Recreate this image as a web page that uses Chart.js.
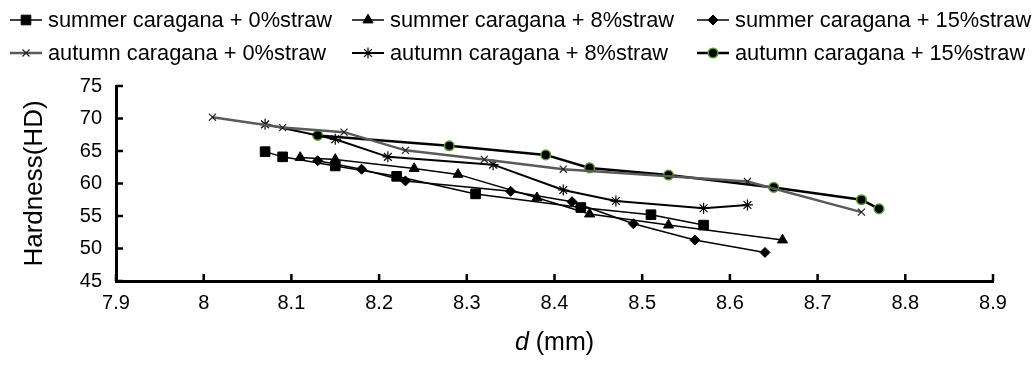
<!DOCTYPE html>
<html>
<head>
<meta charset="utf-8">
<script src="https://cdn.jsdelivr.net/npm/chart.js@4.4.1/dist/chart.umd.min.js"></script>
<style>
html, body { margin: 0; padding: 0; background: #fff; }
</style>
</head>
<body>
<canvas id="graficoDureza" width="1034" height="365"></canvas>
<script>
// ticks
var xTicks = [7.9, 8.0, 8.1, 8.2, 8.3, 8.4, 8.5, 8.6, 8.7, 8.8, 8.9];
var xTickLabels = ['7.9', '8', '8.1', '8.2', '8.3', '8.4', '8.5', '8.6', '8.7', '8.8', '8.9'];
var yTicks = [45, 50, 55, 60, 65, 70, 75];

// series
var nomes = [
    'summer caragana + 0%straw', 'summer caragana + 8%straw', 'summer caragana + 15%straw',
    'autumn caragana + 0%straw', 'autumn caragana + 8%straw', 'autumn caragana + 15%straw'
];
var xVerao0 = [8.07, 8.09, 8.15, 8.22, 8.31, 8.43, 8.51, 8.57];
var yVerao0 = [64.9, 64.1, 62.7, 61.1, 58.4, 56.3, 55.2, 53.6];
var xVerao8 = [8.11, 8.15, 8.24, 8.29, 8.38, 8.44, 8.53, 8.66];
var yVerao8 = [64.0, 63.7, 62.3, 61.4, 57.8, 55.3, 53.6, 51.3];
var xVerao15 = [8.13, 8.18, 8.23, 8.35, 8.42, 8.49, 8.56, 8.64];
var yVerao15 = [63.5, 62.2, 60.4, 58.8, 57.2, 53.8, 51.3, 49.4];
var xOutono0 = [8.01, 8.09, 8.16, 8.23, 8.32, 8.41, 8.62, 8.75];
var yOutono0 = [70.2, 68.6, 67.9, 65.1, 63.7, 62.2, 60.3, 55.6];
var xOutono8 = [8.07, 8.15, 8.21, 8.33, 8.41, 8.47, 8.57, 8.62];
var yOutono8 = [69.1, 66.8, 64.1, 62.9, 59.0, 57.3, 56.2, 56.7];
var xOutono15 = [8.13, 8.28, 8.39, 8.44, 8.53, 8.65, 8.75, 8.77];
var yOutono15 = [67.4, 65.8, 64.4, 62.4, 61.3, 59.4, 57.5, 56.1];

var FONTE = "'Liberation Sans', Arial, sans-serif";
var legendaX = [10, 352, 697];
var legendaY = [20, 53];

function pontos(xs, ys) {
    return xs.map(function (x, i) { return {x: x, y: ys[i]}; });
}

function serie(i, xs, ys, estilo) {
    var ds = {
        label: nomes[i],
        data: pontos(xs, ys),
        borderColor: '#000',
        borderWidth: 1.5,
        pointBackgroundColor: '#000',
        pointBorderColor: '#000',
        pointBorderWidth: 1,
        pointRadius: 5,
        pointHoverRadius: 5,
        tension: 0,
        fill: false,
        showLine: true
    };
    for (var k in estilo) ds[k] = estilo[k];
    return ds;
}

var decoracao = {
    id: 'decoracao',
    afterDraw: function (chart) {
        var ctx = chart.ctx, area = chart.chartArea;
        var sx = chart.scales.x, sy = chart.scales.y;
        ctx.save();
        // ticks pointing into the plot
        ctx.strokeStyle = '#000';
        ctx.lineWidth = 2.5;
        ctx.beginPath();
        yTicks.forEach(function (v) {
            var py = sy.getPixelForValue(v);
            ctx.moveTo(area.left, py);
            ctx.lineTo(area.left + 7, py);
        });
        xTicks.forEach(function (v) {
            var px = sx.getPixelForValue(v);
            ctx.moveTo(px, area.bottom);
            ctx.lineTo(px, area.bottom - 7);
        });
        ctx.stroke();

        // axis titles
        ctx.fillStyle = '#000';
        ctx.textBaseline = 'middle';
        ctx.save();
        ctx.translate(35, (area.top + area.bottom) / 2);
        ctx.rotate(-Math.PI / 2);
        ctx.textAlign = 'center';
        ctx.font = '26px ' + FONTE;
        ctx.fillText('Hardness(HD)', 0, 0);
        ctx.restore();

        ctx.textAlign = 'left';
        ctx.font = 'italic 25px ' + FONTE;
        var w1 = ctx.measureText('d').width;
        ctx.font = '25px ' + FONTE;
        var w2 = ctx.measureText(' (mm)').width;
        var x0 = (area.left + area.right) / 2 - (w1 + w2) / 2;
        ctx.font = 'italic 25px ' + FONTE;
        ctx.fillText('d', x0, 343);
        ctx.font = '25px ' + FONTE;
        ctx.fillText(' (mm)', x0 + w1, 343);

        // legend
        var desenha = Chart.helpers && Chart.helpers.drawPoint;
        chart.data.datasets.forEach(function (ds, i) {
            var lx = legendaX[i % 3], ly = legendaY[Math.floor(i / 3)];
            ctx.strokeStyle = ds.borderColor;
            ctx.lineWidth = ds.borderWidth;
            ctx.beginPath();
            ctx.moveTo(lx, ly);
            ctx.lineTo(lx + 32, ly);
            ctx.stroke();
            if (desenha) {
                ctx.fillStyle = ds.pointBackgroundColor;
                ctx.strokeStyle = ds.pointBorderColor;
                ctx.lineWidth = ds.pointBorderWidth;
                desenha(ctx, {pointStyle: ds.pointStyle, radius: ds.pointRadius, borderWidth: ds.pointBorderWidth, rotation: 0}, lx + 16, ly);
            }
            ctx.fillStyle = '#000';
            ctx.font = '21.8px ' + FONTE;
            ctx.textAlign = 'left';
            ctx.fillText(ds.label, lx + 38, ly + 1);
        });
        ctx.restore();
    }
};

var ctx = document.getElementById('graficoDureza').getContext('2d');
var grafico = new Chart(ctx, {
    type: 'line',
    data: {
        datasets: [
            serie(0, xVerao0, yVerao0, {pointStyle: 'rect', pointRadius: 6.8, pointHoverRadius: 6.8}),
            serie(1, xVerao8, yVerao8, {pointStyle: 'triangle', pointRadius: 5.8, pointHoverRadius: 5.8}),
            serie(2, xVerao15, yVerao15, {pointStyle: 'rectRot', pointRadius: 5, pointHoverRadius: 5}),
            serie(3, xOutono0, yOutono0, {pointStyle: 'crossRot', pointRadius: 5, borderColor: '#5a5a5a', borderWidth: 2.5, pointBorderColor: '#222', pointBorderWidth: 1.2}),
            serie(4, xOutono8, yOutono8, {pointStyle: 'star', pointRadius: 5.5, borderWidth: 2, pointBorderWidth: 1.2}),
            serie(5, xOutono15, yOutono15, {pointStyle: 'circle', pointRadius: 4.8, borderWidth: 2.5, pointBorderColor: '#5a9e32', pointBorderWidth: 1.5})
        ]
    },
    options: {
        responsive: false,
        animation: false,
        layout: { padding: { top: 86, right: 41, bottom: 0, left: 0 } },
        plugins: {
            legend: { display: false },
            tooltip: { enabled: false }
        },
        scales: {
            x: {
                type: 'linear',
                min: 7.9,
                max: 8.9,
                afterBuildTicks: function (s) { s.ticks = xTicks.map(function (v) { return {value: v}; }); },
                afterFit: function (s) { s.height = 84; },
                grid: { display: true, drawOnChartArea: false, drawTicks: false },
                border: { display: true, color: '#000', width: 3 },
                ticks: {
                    color: '#000',
                    font: { family: FONTE, size: 20 },
                    padding: 10,
                    maxRotation: 0,
                    autoSkip: false,
                    callback: function (value, index) { return xTickLabels[index]; }
                }
            },
            y: {
                min: 45,
                max: 75,
                afterBuildTicks: function (s) { s.ticks = yTicks.map(function (v) { return {value: v}; }); },
                afterFit: function (s) { s.width = 116; },
                grid: { display: true, drawOnChartArea: false, drawTicks: false },
                border: { display: true, color: '#000', width: 3 },
                ticks: {
                    color: '#000',
                    font: { family: FONTE, size: 20 },
                    padding: 14
                }
            }
        }
    },
    plugins: [decoracao]
});
</script>
</body>
</html>
